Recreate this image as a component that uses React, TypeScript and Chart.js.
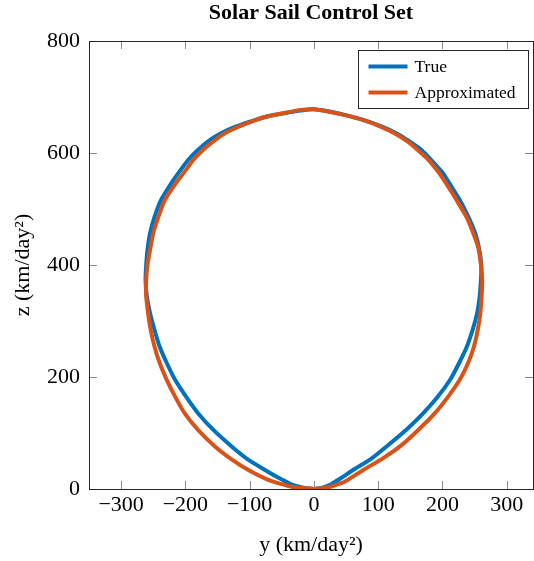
import React, { useEffect, useRef } from "react";
import { Chart, registerables } from "chart.js";

Chart.register(...registerables);

const TITLE = "Solar Sail Control Set";
const X_LABEL = "y (km/day²)";
const Y_LABEL = "z (km/day²)";
const SERIES_NAMES = ["True", "Approximated"];
const COLORS = ["#0072BD", "#D95319"];

const X_TICKS = [-300, -200, -100, 0, 100, 200, 300];
const Y_TICKS = [0, 200, 400, 600, 800];

// True trajectory (y, z)
const trueY = [
  0, 12, 26, 43, 61, 88, 113, 143, 170, 193, 212,
  226, 238, 247, 254, 258, 260, 260.5, 257, 251, 240,
  227, 214, 201, 183, 168, 146, 129, 106, 77, 48,
  24, 0,
  -20, -42, -70, -97, -122, -143, -162, -181, -196, -211,
  -222, -238, -248, -255, -259, -261, -262, -260, -255, -248,
  -240, -229, -216, -199, -180, -156, -128, -103, -76, -55,
  -34, -14, 0,
];
const trueZ = [
  0, 2, 8, 20, 34, 53, 76, 105, 135, 165, 195,
  225, 254, 284, 314, 344, 373, 400, 430, 457, 487,
  516, 540, 564, 587, 605, 623, 635, 647, 659, 668,
  674, 678,
  676, 672, 666, 657, 647, 636, 623, 605, 587, 564,
  546, 516, 486, 457, 427, 400, 373, 344, 314, 284,
  254, 225, 195, 165, 135, 105, 76, 53, 34, 20,
  8, 2, 0,
];

// Approximated trajectory (y, z)
const approxY = [
  0, 23, 48, 77, 105, 134, 162, 188, 209, 227,
  240, 249, 255, 259, 261, 262, 260, 256, 248, 237,
  222, 209, 195, 179, 162, 145, 126, 102, 76, 47,
  22, 0,
  -20, -44, -70, -95, -117, -137, -154, -173, -188, -203,
  -215, -232, -242, -250, -255, -259, -261, -261, -258, -254,
  -248, -240, -229, -216, -201, -180, -154, -128, -102, -68,
  -35, 0,
];
const approxZ = [
  0, 3, 13, 34, 53, 76, 105, 135, 165, 195,
  225, 254, 284, 314, 344, 373, 400, 430, 457, 487,
  516, 540, 564, 587, 605, 621, 635, 648, 659, 668,
  674, 678,
  677, 672, 666, 657, 647, 636, 623, 605, 587, 564,
  546, 516, 486, 457, 427, 400, 373, 344, 314, 284,
  254, 225, 195, 165, 135, 105, 76, 53, 34, 15,
  4, 0,
];

const FONT = '"Liberation Serif", "Times New Roman", serif';

function toPoints(xs: number[], ys: number[]) {
  return xs.map((x, i) => ({ x, y: ys[i] }));
}

function fmt(v: number) {
  return v < 0 ? "\u2212" + Math.abs(v) : String(v);
}

const framePlugin = {
  id: "frameTicks",
  afterDatasetsDraw(chart: any) {
    const { ctx, chartArea } = chart;
    const { left, right, top, bottom } = chartArea;
    const xs = chart.scales.x;
    const ys = chart.scales.y;
    const tl = 8;
    ctx.save();
    ctx.strokeStyle = "#8c8c8c";
    ctx.lineWidth = 1;
    ctx.beginPath();
    X_TICKS.forEach((v) => {
      const px = Math.round(xs.getPixelForValue(v)) + 0.5;
      ctx.moveTo(px, bottom);
      ctx.lineTo(px, bottom - tl);
      ctx.moveTo(px, top);
      ctx.lineTo(px, top + tl);
    });
    Y_TICKS.forEach((v) => {
      const py = Math.round(ys.getPixelForValue(v)) + 0.5;
      ctx.moveTo(left, py);
      ctx.lineTo(left + tl, py);
      ctx.moveTo(right, py);
      ctx.lineTo(right - tl, py);
    });
    ctx.stroke();
    ctx.strokeStyle = "#262626";
    ctx.strokeRect(
      Math.round(left) + 0.5,
      Math.round(top) + 0.5,
      Math.round(right) - Math.round(left),
      Math.round(bottom) - Math.round(top)
    );

    // title centred over the plot area
    ctx.fillStyle = "#000";
    ctx.font = `bold 22px ${FONT}`;
    ctx.textAlign = "center";
    ctx.textBaseline = "middle";
    ctx.fillText(TITLE, (left + right) / 2, 13);

    // legend
    const bw = 170;
    const bh = 58;
    const bx = Math.round(right) - 175 + 0.5;
    const by = Math.round(top) + 9 + 0.5;
    ctx.fillStyle = "#ffffff";
    ctx.fillRect(bx, by, bw, bh);
    ctx.strokeStyle = "#262626";
    ctx.strokeRect(bx, by, bw, bh);
    ctx.font = `17.5px ${FONT}`;
    ctx.textBaseline = "middle";
    ctx.textAlign = "left";
    SERIES_NAMES.forEach((name, i) => {
      const ly = by + 16 + i * 26;
      ctx.strokeStyle = COLORS[i];
      ctx.lineWidth = 4;
      ctx.beginPath();
      ctx.moveTo(bx + 10, ly);
      ctx.lineTo(bx + 49, ly);
      ctx.stroke();
      ctx.fillStyle = "#000";
      ctx.fillText(name, bx + 56, ly + 1);
    });
    ctx.restore();
  },
};

export default function App() {
  const ref = useRef<HTMLCanvasElement>(null);

  useEffect(() => {
    document.body.style.margin = "0";
    const canvas = ref.current;
    if (!canvas) return;
    const chart = new Chart(canvas, {
      type: "scatter",
      data: {
        datasets: [
          {
            label: SERIES_NAMES[0],
            data: toPoints(trueY, trueZ),
            showLine: true,
            borderColor: COLORS[0],
            backgroundColor: COLORS[0],
            borderWidth: 4,
            pointRadius: 0,
            tension: 0.15,
            order: 1,
          },
          {
            label: SERIES_NAMES[1],
            data: toPoints(approxY, approxZ),
            showLine: true,
            borderColor: COLORS[1],
            backgroundColor: COLORS[1],
            borderWidth: 4,
            pointRadius: 0,
            tension: 0.15,
            order: 0,
          },
        ],
      },
      options: {
        responsive: false,
        animation: false,
        devicePixelRatio: 1,
        layout: { padding: { left: 0, right: 1, top: 41, bottom: 0 } },
        plugins: {
          legend: { display: false },
          tooltip: { enabled: false },
          title: { display: false },
        },
        scales: {
          x: {
            type: "linear",
            min: -350,
            max: 341,
            grid: { display: false, drawTicks: false },
            border: { display: false },
            afterBuildTicks: (scale: any) => {
              scale.ticks = X_TICKS.map((v) => ({ value: v }));
            },
            afterFit: (scale: any) => {
              scale.height = 72;
            },
            ticks: {
              color: "#000",
              font: { family: FONT, size: 22 },
              padding: 3,
              maxRotation: 0,
              autoSkip: false,
              callback: (v: any) => fmt(Number(v)),
            },
            title: {
              display: true,
              text: X_LABEL,
              color: "#000",
              font: { family: FONT, size: 22 },
              padding: { top: 0, bottom: 2.3 },
            },
          },
          y: {
            type: "linear",
            min: 0,
            max: 800,
            grid: { display: false, drawTicks: false },
            border: { display: false },
            afterBuildTicks: (scale: any) => {
              scale.ticks = Y_TICKS.map((v) => ({ value: v }));
            },
            afterFit: (scale: any) => {
              scale.width = 89;
            },
            ticks: {
              color: "#000",
              font: { family: FONT, size: 22 },
              padding: 9,
              autoSkip: false,
              callback: (v: any) => fmt(Number(v)),
            },
            title: {
              display: true,
              text: Y_LABEL,
              color: "#000",
              font: { family: FONT, size: 22 },
              padding: { top: 10.5, bottom: 0 },
            },
          },
        },
      },
      plugins: [framePlugin],
    } as any);
    return () => chart.destroy();
  }, []);

  return (
    <div style={{ position: "absolute", left: 0, top: 0, width: 534, height: 561 }}>
      <canvas ref={ref} width={534} height={561} style={{ width: 534, height: 561 }} />
    </div>
  );
}
